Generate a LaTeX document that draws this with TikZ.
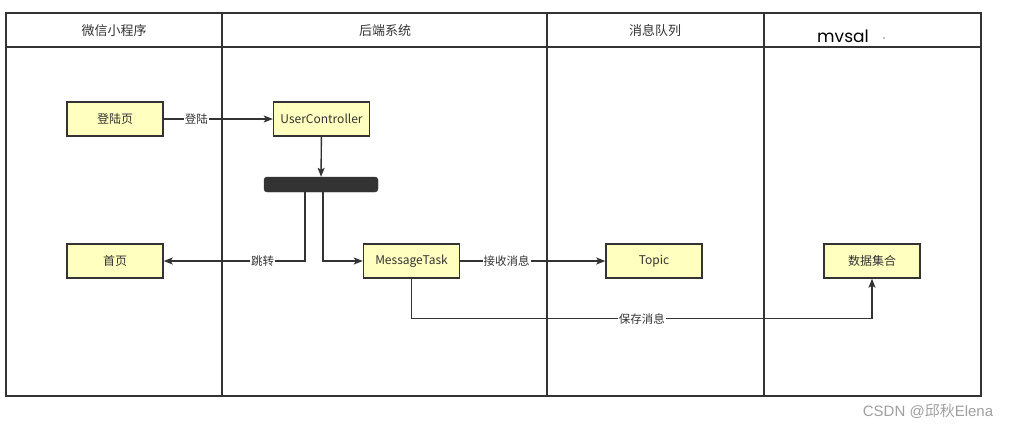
\documentclass[tikz,border=0pt]{standalone}
\usepackage{fontspec}
\setmainfont{Noto Sans CJK SC}
\newfontfamily\mvfont{Poppins}
\newfontfamily\wmfont{Liberation Sans}
\usetikzlibrary{arrows.meta,calc}
\definecolor{boxfill}{HTML}{FFFFC0}
\definecolor{ink}{HTML}{333333}
\begin{document}
\begin{tikzpicture}[x=1pt,y=-1pt,
  lane/.style={draw=ink,line width=1.5pt},
  hdr/.style={font=\fontsize{13}{15}\selectfont,text=ink,anchor=center},
  box/.style={draw=ink,line width=1.4pt,fill=boxfill,minimum width=96pt,minimum height=34pt,font=\fontsize{12}{14}\selectfont,text=ink,inner sep=0pt},
  conn/.style={draw=ink,line width=1.4pt,-{Stealth[length=9pt,width=7pt,inset=2pt]}},
  lbl/.style={fill=white,font=\fontsize{11.5}{13}\selectfont,text=ink,inner sep=1pt}
]
\useasboundingbox (0,0) rectangle (1011,431);
% swimlanes
\draw[lane] (6,13) rectangle (981,396);
\draw[lane] (6,47) -- (981,47);
\draw[lane] (222,13) -- (222,396);
\draw[lane] (547,13) -- (547,396);
\draw[lane] (764,13) -- (764,396);
\node[hdr] (h1) at (114,31) {微信小程序};
\node[hdr] (h2) at (385,31) {后端系统};
\node[hdr] (h3) at (655,31) {消息队列};
\node[anchor=center,font=\mvfont\fontsize{17}{19}\selectfont,text=black] (h4) at (843,36) {mvsal};
\fill[black] (884,38) circle (0.6pt);
% boxes
\node[box] (login) at (115,119) {登陆页};
\node[box] (uc) at (321.5,119) {UserController};
\node[draw=ink,fill=ink,rounded corners=3pt,minimum width=114pt,minimum height=15pt,inner sep=0pt] (bar) at (321,184.5) {};
\node[box] (home) at (115,261) {首页};
\node[box] (mt) at (411.5,261) {MessageTask};
\node[box] (topic) at (654,261) {Topic};
\node[box] (data) at (872,261) {数据集合};
% connectors
\draw[conn] (login) -- node[lbl,pos=0.3] {登陆} (uc);
\draw[conn] (uc) -- (bar);
\coordinate (b1) at ($(bar.south)+(-16,0)$);
\coordinate (b2) at ($(bar.south)+(2,0)$);
\draw[conn] (b1) |- node[lbl,pos=0.65] {跳转} (home);
\draw[conn] (b2) |- (mt);
\draw[conn] (mt) -- node[lbl,pos=0.32] {接收消息} (topic);
\coordinate (c1) at ($(mt.south)+(0,40)$);
\coordinate (c2) at ($(data.south)+(0,40)$);
\draw[conn] (mt.south) -- (c1) -- node[lbl,pos=0.5] {保存消息} (c2) -- (data.south);
% watermark
\node[anchor=center,font=\fontsize{15}{17}\selectfont,text=gray!75] (wm) at (928,411) {\wmfont CSDN @\rmfamily 邱秋\wmfont Elena};
\end{tikzpicture}
\end{document}
